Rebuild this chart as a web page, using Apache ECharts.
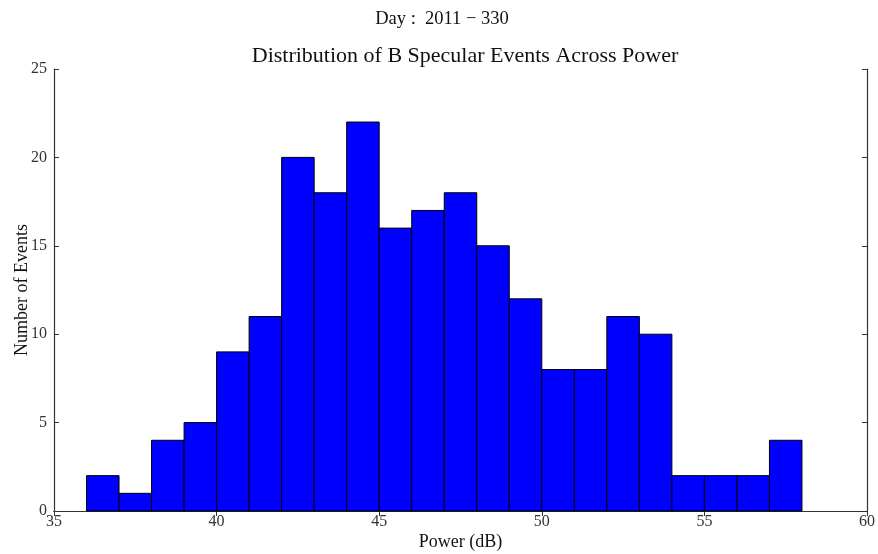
<!DOCTYPE html>
<html>
<head>
<meta charset="utf-8">
<script src="https://cdn.jsdelivr.net/npm/echarts@6/dist/echarts.min.js"></script>
<style>
  html, body { margin: 0; padding: 0; background: #fff; }
  #chart { width: 878px; height: 554px; }
</style>
</head>
<body>
<div id="chart"></div>
<script>
// Histogram bins: left edge of each 1 dB bin and the event count in it
const binStarts = [36, 37, 38, 39, 40, 41, 42, 43, 44, 45, 46, 47, 48, 49, 50, 51, 52, 53, 54, 55, 56, 57];
const binCounts = [2, 1, 4, 5, 9, 11, 20, 18, 22, 16, 17, 18, 15, 12, 8, 8, 11, 10, 2, 2, 2, 4];
const binWidth = 1;
const xTicks = [35, 40, 45, 50, 55, 60];
const yTicks = [0, 5, 10, 15, 20, 25];

const serif = '"Liberation Serif", "DejaVu Serif", serif';

const chart = echarts.init(document.getElementById('chart'), null, { renderer: 'canvas' });

const tickStyle = { show: true, inside: true, length: 5, lineStyle: { color: '#333', width: 1 } };
const lineStyle = { show: true, lineStyle: { color: '#333', width: 1.2 } };

chart.setOption({
  animation: false,
  backgroundColor: '#fff',
  title: [
    {
      text: 'Day :  2011 \u2212 330',
      left: 437, top: 5, textAlign: 'center',
      textStyle: { fontFamily: serif, fontSize: 18.5, fontWeight: 'normal', color: '#111' }
    },
    {
      text: 'Distribution of B Specular Events Across Power',
      left: 460, top: 40, textAlign: 'center',
      textStyle: { fontFamily: serif, fontSize: 22, fontWeight: 'normal', color: '#111' }
    }
  ],
  grid: { left: 54, right: 11, top: 69, bottom: 43, containLabel: false, outerBoundsMode: 'none' },
  xAxis: [
    {
      type: 'value', min: xTicks[0], max: xTicks[xTicks.length - 1], interval: 5,
      name: 'Power (dB)', nameLocation: 'middle', nameGap: 22, nameMoveOverlap: false,
      nameTextStyle: { fontFamily: serif, fontSize: 18, color: '#111' },
      axisLine: lineStyle, axisTick: tickStyle,
      axisLabel: { fontFamily: serif, fontSize: 16, color: '#333', margin: 3 },
      splitLine: { show: false }
    },
    {
      type: 'value', position: 'top', min: xTicks[0], max: xTicks[xTicks.length - 1], interval: 5,
      axisLine: lineStyle, axisTick: tickStyle, axisLabel: { show: false }, splitLine: { show: false }
    }
  ],
  yAxis: [
    {
      type: 'value', min: yTicks[0], max: yTicks[yTicks.length - 1], interval: 5,
      name: 'Number of Events', nameLocation: 'middle', nameGap: 23, nameRotate: 90, nameMoveOverlap: false,
      nameTextStyle: { fontFamily: serif, fontSize: 18, color: '#111' },
      axisLine: lineStyle, axisTick: tickStyle,
      axisLabel: { fontFamily: serif, fontSize: 16, color: '#333', margin: 7 },
      splitLine: { show: false }
    },
    {
      type: 'value', position: 'right', min: yTicks[0], max: yTicks[yTicks.length - 1], interval: 5,
      axisLine: lineStyle, axisTick: tickStyle, axisLabel: { show: false }, splitLine: { show: false }
    }
  ],
  series: [
    {
      type: 'custom',
      xAxisIndex: 0, yAxisIndex: 0,
      data: binStarts.map((s, i) => [s, s + binWidth, binCounts[i]]),
      encode: { x: [0, 1], y: 2 },
      renderItem: function (params, api) {
        const p0 = api.coord([api.value(0), api.value(2)]);
        const p1 = api.coord([api.value(1), 0]);
        return {
          type: 'rect',
          shape: { x: p0[0], y: p0[1], width: p1[0] - p0[0], height: p1[1] - p0[1] },
          style: { fill: '#0000ff', stroke: '#000', lineWidth: 1 }
        };
      },
      z: 1
    }
  ]
});
</script>
</body>
</html>
